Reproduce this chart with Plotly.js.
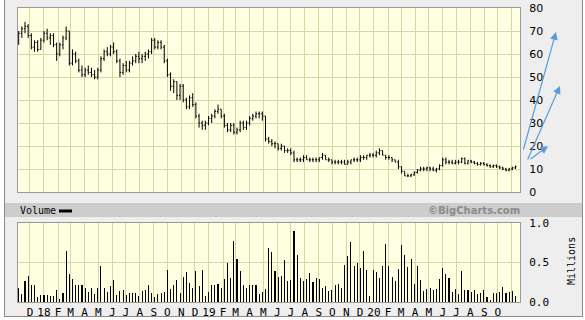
<!DOCTYPE html>
<html>
<head>
<meta charset="utf-8">
<script src="https://cdn.plot.ly/plotly-3.0.1.min.js"></script>
<style>
  html, body { margin: 0; padding: 0; background: #ffffff; }
  #chart { width: 585px; height: 320px; }
</style>
</head>
<body>
<div id="chart"></div>
<script>
// Weekly bars, first week starting 2017-11-06
var firstWeek = '2017-11-06';

var openP = [
  66,69,71,72,68,63,65,62,66,69,
  67,68,64,60,64,67,70,56,60,57,
  53,51,53,52,51,50,53,58,61,60,
  63,61,57,52,55,53,56,57,59,58,
  59,60,61,66,63,65,63,57,51,46,
  48,42,46,40,37,41,38,33,30,29,
  30,32,33,35,36,33,29,27,29,26,
  27,30,28,30,32,33,34,34,33,23,
  22,21,21,19,20,18,18,17,14,14,
  14,15,14,14,14,14,15,16,14,14,
  13,13,13,13,12,13,14,14,14,15,
  15,16,16,16,17,18,16,15,15,14,
  13,11,9,7,7,7.5,8.5,9.5,10,10,
  10.5,10,9.5,10,11.5,14,13,13,12.5,13,
  13,14.5,12.5,13.5,13,12.5,12,12.5,12,11.5,
  11,11.5,11,10.5,10,9.5,10,10.5
];
var highP = [
  70,72,74,73,69,66,66,67,70,71,
  69,69,65,65,68,72,70,62,61,58,
  55,54,55,54,53,54,59,62,63,64,
  65,62,58,56,57,57,59,60,61,60,
  61,62,67,67,66,66,64,58,52,49,
  48,47,47,41,42,43,39,34,31,31,
  33,34,36,38,36,34,30,30,30,28,
  31,31,31,33,34,35,35,35,33,24,
  23,22,21,21,20,19,19,18,15,15,
  16,16,15,15,15,15,17,16,15,14,
  14,14,14,14,14,14,15,15,16,16,
  16,17,17,18,19,18,16,16,15,14,
  14,11,9,8,8,9,10,11,11,11,
  11,11,10.5,12,15,15,14,14,14,14,
  15,15,14,14,13.5,13,13,13,12.5,12,
  12,12,11.5,11,10.5,10.5,11,11.5
];
var lowP = [
  64,67,69,67,62,61,61,62,65,66,
  64,63,57,59,62,66,55,55,56,52,
  50,50,51,50,49,49,52,57,59,59,
  60,56,50,51,52,52,55,56,56,56,
  57,58,60,62,62,62,56,50,44,43,
  40,40,39,36,36,37,32,28,27,27,
  29,30,32,34,32,28,26,26,25,25,
  26,27,27,29,31,32,32,31,22,21,
  20,19,18,18,17,17,16,13,13,13,
  13,14,13,13,13,13,14,14,13,12,
  12,12,12,12,12,12,13,13,13,14,
  14,15,15,15,16,16,14,14,13,13,
  10,8,7,6.5,6.5,7,8,9,9,9,
  9,9,8.5,9.5,11,12,12,12,12,12,
  12.5,12,12,12.5,12,11.5,11.5,11.5,11,10.5,
  10.5,10.5,10,9.5,9,9,9.5,10
];
var closeP = [
  69,71,72,68,63,65,62,66,69,67,
  68,64,60,64,67,70,56,60,57,53,
  51,53,52,51,50,53,58,61,60,63,
  61,57,52,55,53,56,57,59,58,59,
  60,61,66,63,65,63,57,51,46,48,
  42,46,40,37,41,38,33,30,29,30,
  32,33,35,36,33,29,27,29,26,27,
  30,28,30,32,33,34,34,33,23,22,
  21,21,19,20,18,18,17,14,14,14,
  15,14,14,14,14,15,16,14,14,13,
  13,13,13,12,13,14,14,14,15,15,
  16,16,16,17,18,16,15,15,14,13,
  11,9,7,7,7.5,8.5,9.5,10,10,10.5,
  10,9.5,10,11.5,14,13,13,12.5,13,13,
  14.5,12.5,13.5,13,12.5,12,12.5,12,11.5,11,
  11.5,11,10.5,10,9.5,10,10.5,11
];
// Volume in millions
var volume = [
  0.18,0.10,0.26,0.33,0.22,0.21,0.06,0.09,0.09,0.09,
  0.07,0.08,0.15,0.04,0.12,0.65,0.35,0.29,0.22,0.22,
  0.22,0.18,0.13,0.18,0.10,0.18,0.46,0.18,0.13,0.20,
  0.28,0.09,0.14,0.15,0.09,0.11,0.11,0.11,0.07,0.14,
  0.15,0.21,0.12,0.06,0.10,0.11,0.13,0.41,0.16,0.22,
  0.28,0.12,0.32,0.38,0.24,0.18,0.39,0.20,
  0.41,0.08,0.13,0.21,0.22,0.23,0.18,0.29,0.50,0.31,
  0.77,0.55,0.39,0.21,0.18,0.22,0.22,0.21,0.10,0.13,
  0.17,0.68,0.63,0.39,0.32,0.33,0.53,0.26,0.28,0.90,
  0.59,0.30,0.26,0.29,0.37,0.25,0.31,0.29,0.18,0.20,
  0.14,0.15,0.21,0.23,0.18,0.47,0.58,0.76,0.46,0.50,
  0.43,0.65,0.41,0.08,0.40,0.38,0.30,0.45,0.73,0.45,
  0.32,0.26,0.42,0.72,0.60,0.44,0.54,0.23,0.46,0.28,
  0.14,0.16,0.18,0.15,0.17,0.29,0.43,0.35,0.30,0.13,
  0.17,0.10,0.39,0.15,0.15,0.13,0.15,0.10,0.11,0.15,
  0.06,0.03,0.11,0.12,0.13,0.19,0.12,0.13,0.14,0.07
];
var monthLabels = ['D','18','F','M','A','M','J','J','A','S','O','N',
                   'D','19','F','M','A','M','J','J','A','S','O','N',
                   'D','20','F','M','A','M','J','J','A','S','O',''];
var firstMonth = [2017, 11]; // December 2017 (0-based month)
var priceTicks = [0,10,20,30,40,50,60,70,80];
var volTicks = [0, 0.5, 1.0];
var volTickText = ['0.0','0.5','1.0'];

function iso(d){ return d.toISOString().slice(0,10); }
var dates = [];
var d0 = new Date(firstWeek + 'T00:00:00Z');
for (var i = 0; i < closeP.length; i++) {
  dates.push(iso(new Date(d0.getTime() + i*7*86400000)));
}
var monthTicks = [];
for (var m = 0; m < monthLabels.length; m++) {
  monthTicks.push(iso(new Date(Date.UTC(firstMonth[0], firstMonth[1] + m, 1))));
}

var xRange = ['2017-11-04 12:00', '2020-11-19'];
var grid = '#d6d6a6';
var frame = '#9a9a9a';

var traces = [
  {
    type: 'ohlc', x: dates, open: openP, high: highP, low: lowP, close: closeP,
    xaxis: 'x', yaxis: 'y',
    increasing: {line: {color: '#000000', width: 1}},
    decreasing: {line: {color: '#000000', width: 1}},
    tickwidth: 0.35, hoverinfo: 'skip'
  },
  {
    type: 'bar', x: dates, y: volume, xaxis: 'x2', yaxis: 'y2',
    marker: {color: '#000000', line: {width: 0}},
    width: 2.4*86400000, hoverinfo: 'skip'
  }
];

function px(x){ return (x - 18)/502; }
function py(y){ return (302 - y)/294; }

var layout = {
  width: 585, height: 320,
  margin: {l: 18, r: 65, t: 8, b: 18, pad: 0},
  paper_bgcolor: '#eeeeee',
  plot_bgcolor: '#ffffe2',
  showlegend: false,
  bargap: 0,
  xaxis: {
    type: 'date', range: xRange, domain: [0, 1], anchor: 'y',
    tickvals: monthTicks, showticklabels: false, ticks: '',
    showgrid: true, gridcolor: grid, gridwidth: 1,
    showline: true, mirror: true, linecolor: frame, linewidth: 1,
    zeroline: false, rangeslider: {visible: false}, fixedrange: true
  },
  xaxis2: {
    type: 'date', range: xRange, domain: [0, 1], anchor: 'y2', matches: 'x',
    tickvals: monthTicks, ticktext: monthLabels, tickangle: 0,
    tickfont: {family: 'DejaVu Sans Mono', size: 11, color: '#000000'},
    ticks: '', showgrid: true, gridcolor: grid, gridwidth: 1,
    showline: true, mirror: true, linecolor: frame, linewidth: 1,
    zeroline: false, rangeslider: {visible: false}
  },
  yaxis: {
    domain: [py(192), 1], range: [0, 80], side: 'right',
    tickvals: priceTicks, tickfont: {family: 'DejaVu Sans', size: 11, color: '#000000'},
    ticks: 'outside', ticklen: 6, tickcolor: 'rgba(0,0,0,0)',
    showgrid: true, gridcolor: grid, gridwidth: 1,
    showline: true, mirror: true, linecolor: frame, zeroline: false
  },
  yaxis2: {
    domain: [0, py(223)], range: [0, 1.0], side: 'right',
    tickvals: volTicks, ticktext: volTickText,
    tickfont: {family: 'DejaVu Sans Mono', size: 11, color: '#000000'},
    ticks: 'outside', ticklen: 6, tickcolor: 'rgba(0,0,0,0)',
    showgrid: true, gridcolor: grid, gridwidth: 1,
    showline: true, mirror: true, linecolor: frame, zeroline: false
  },
  shapes: [
    // volume band
    {type: 'rect', xref: 'paper', yref: 'paper', x0: px(5), x1: px(582), y0: py(217), y1: py(203),
     fillcolor: '#cccccc', line: {width: 0}, layer: 'below'},
    // legend dash
    {type: 'line', xref: 'paper', yref: 'paper', x0: px(59), x1: px(72), y0: py(211), y1: py(211),
     line: {color: '#000000', width: 3}},
    // outer white strips
    {type: 'rect', xref: 'paper', yref: 'paper', x0: px(-2), x1: px(4), y0: py(322), y1: py(-2),
     fillcolor: '#ffffff', line: {width: 0}},
    {type: 'rect', xref: 'paper', yref: 'paper', x0: px(583), x1: px(587), y0: py(322), y1: py(-2),
     fillcolor: '#ffffff', line: {width: 0}},
    {type: 'rect', xref: 'paper', yref: 'paper', x0: px(-2), x1: px(587), y0: py(322), y1: py(317),
     fillcolor: '#ffffff', line: {width: 0}},
    // frame lines
    {type: 'line', xref: 'paper', yref: 'paper', x0: px(4.5), x1: px(4.5), y0: py(317), y1: py(-2),
     line: {color: '#8c8c8c', width: 1}},
    {type: 'line', xref: 'paper', yref: 'paper', x0: px(582.5), x1: px(582.5), y0: py(317), y1: py(-2),
     line: {color: '#8c8c8c', width: 1}},
    {type: 'line', xref: 'paper', yref: 'paper', x0: px(4.5), x1: px(582.5), y0: py(316.5), y1: py(316.5),
     line: {color: '#8c8c8c', width: 1}}
  ],
  annotations: [
    {xref: 'paper', yref: 'paper', x: px(18), y: py(210), xanchor: 'left', yanchor: 'middle',
     text: 'Volume', showarrow: false, font: {family: 'DejaVu Sans Mono', size: 10, color: '#000000'}},
    {xref: 'paper', yref: 'paper', x: px(474), y: py(210), xanchor: 'center', yanchor: 'middle',
     text: '<b>©BigCharts.com</b>', showarrow: false, font: {family: 'DejaVu Sans', size: 10, color: '#8a8a8a'}},
    {xref: 'paper', yref: 'paper', x: px(571), y: py(261), xanchor: 'center', yanchor: 'middle',
     text: 'Millions', textangle: -90, showarrow: false, font: {family: 'DejaVu Sans Mono', size: 10, color: '#000000'}},
    {xref: 'paper', yref: 'paper', x: px(556), y: py(32), text: '', showarrow: true,
     ax: -33, ay: 119, arrowhead: 2, arrowsize: 1.3, arrowwidth: 1.2, arrowcolor: '#5b9bd5'},
    {xref: 'paper', yref: 'paper', x: px(560), y: py(86), text: '', showarrow: true,
     ax: -33, ay: 75, arrowhead: 2, arrowsize: 1.3, arrowwidth: 1.2, arrowcolor: '#5b9bd5'},
    {xref: 'paper', yref: 'paper', x: px(548), y: py(146), text: '', showarrow: true,
     ax: -19, ay: 14, arrowhead: 2, arrowsize: 1.3, arrowwidth: 1.2, arrowcolor: '#5b9bd5'}
  ]
};

Plotly.newPlot('chart', traces, layout, {staticPlot: true, displayModeBar: false});
</script>
</body>
</html>
